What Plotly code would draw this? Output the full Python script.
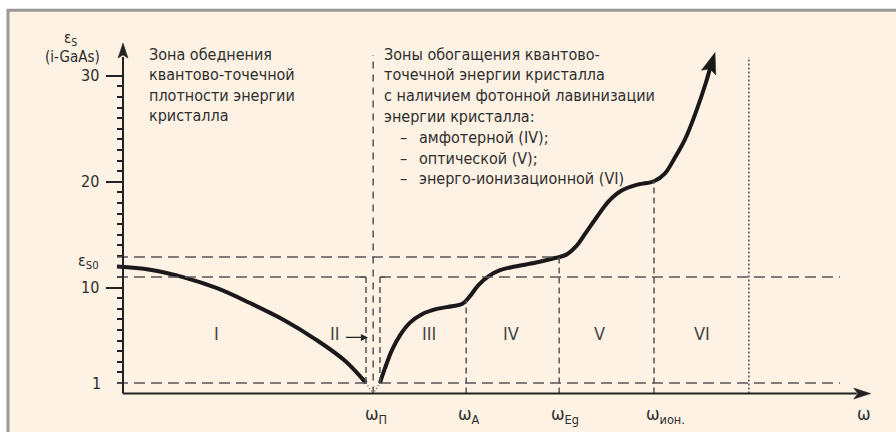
import plotly.graph_objects as go

W, H = 896, 432
# pixel geometry of the drawing's axes (used only for placement helpers)
X0_PX, PX_PER_X = 123.0, 93.0
Y0_PX, PX_PER_Y = 393.6, 10.59

def px_x(p):
    return (p - X0_PX) / PX_PER_X

def px_y(p):
    return (Y0_PX - p) / PX_PER_Y

# ---------------- data ----------------
omega_labels = ["ω<sub>П</sub>", "ω<sub>A</sub>", "ω<sub>Eg</sub>", "ω<sub>ион.</sub>"]
omega_pos = [2.69, 3.69, 4.69, 5.71]
eps_at_omega = [None, 8.8, 12.93, 20.05]
omega_dotted = 6.73
zone2_left, zone2_right = 2.613, 2.763
h_line_end = 7.71
axis_x_end = 8.04
axis_y_end = 33.1

y_major = [10, 20, 30]
y_minor = [v for v in range(1, 30) if v not in (10, 20)]
eps_s0_upper = 12.9
eps_s0_lower = 11.0
eps_one = 1.0

curve1_x = [-0.065, 0.290, 0.645, 1.011, 1.366, 1.720, 2.075, 2.387, 2.613]
curve1_y = [12.0, 11.7, 11.0, 9.95, 8.55, 7.0, 5.1, 3.1, 1.0]

curve2_x = [2.763, 2.817, 2.892, 2.978, 3.086, 3.215, 3.376, 3.538, 3.645, 3.731, 3.817,
            3.925, 4.054, 4.215, 4.430, 4.645, 4.763, 4.871, 4.978, 5.097, 5.226, 5.366,
            5.538, 5.710, 5.828, 5.935, 6.043, 6.161, 6.269, 6.366]
curve2_y = [1.0, 2.4, 4.1, 5.5, 6.7, 7.5, 8.0, 8.25, 8.45, 9.2, 10.2,
            11.05, 11.65, 12.0, 12.35, 12.8, 13.1, 13.9, 15.2, 16.7, 18.2, 19.2,
            19.75, 20.05, 20.8, 22.3, 24.0, 26.6, 29.4, 32.2]

zone_names = ["I", "II", "III", "IV", "V", "VI"]
zone_x = [1.01, 2.28, 3.29, 4.17, 5.12, 6.23]
zone_y = 5.65

left_text = ["Зона обеднения", "квантово-точечной", "плотности энергии", "кристалла"]
right_text = ["Зоны обогащения квантово-", "точечной энергии кристалла",
              "с наличием фотонной лавинизации", "энергии кристалла:"]
right_items = ["амфотерной (IV);", "оптической (V);", "энерго-ионизационной (VI)"]

FONT = "Liberation Sans Narrow, Arial Narrow, DejaVu Sans Condensed, sans-serif"
INK = "#222222"
TXT = "#2e2e2e"
DASH = "#555555"

fig = go.Figure()
shapes = []
ann = []

# frame
shapes.append(dict(type="rect", xref="paper", yref="paper", x0=8 / W, x1=1.02,
                   y0=-0.02, y1=1 - 10.3 / H, line=dict(color="#9a9a9a", width=3),
                   fillcolor="#fef2e4", layer="below"))

def hline(y, x0, x1, dash="11px,6px", color=DASH, width=1.5):
    shapes.append(dict(type="line", x0=x0, x1=x1, y0=y, y1=y,
                       line=dict(color=color, width=width, dash=dash)))

def vline(x, y0, y1, dash="6px,4px", color=DASH, width=1.5):
    shapes.append(dict(type="line", x0=x, x1=x, y0=y0, y1=y1,
                       line=dict(color=color, width=width, dash=dash)))

start_x = px_x(117)
hline(eps_s0_upper, start_x, omega_pos[2])
hline(eps_s0_lower, start_x, zone2_left)
hline(eps_s0_lower, zone2_right, h_line_end)
hline(eps_one, start_x, zone2_left)
hline(eps_one, zone2_right, h_line_end)

vline(omega_pos[0], 0, px_y(55), dash="7px,6px")
vline(zone2_left, eps_one, eps_s0_lower)
vline(zone2_right, eps_one, eps_s0_lower)
shapes.append(dict(type="line", x0=zone2_left - 0.06, x1=zone2_left, y0=eps_s0_lower, y1=eps_s0_lower,
                   line=dict(color=DASH, width=1.5)))
shapes.append(dict(type="line", x0=zone2_right, x1=zone2_right + 0.06, y0=eps_s0_lower, y1=eps_s0_lower,
                   line=dict(color=DASH, width=1.5)))
for i in (1, 2, 3):
    vline(omega_pos[i], 0, eps_at_omega[i])
vline(omega_dotted, 0, px_y(57), dash="2px,2px")
# dotted V at the bottom of zone II
for xs in (zone2_left, zone2_right):
    shapes.append(dict(type="line", x0=xs, x1=omega_pos[0], y0=eps_one, y1=0,
                       line=dict(color=DASH, width=1.2, dash="1px,2px")))

# axes
shapes.append(dict(type="line", x0=0, x1=0, y0=0, y1=axis_y_end - 14 / PX_PER_Y,
                   line=dict(color=INK, width=2)))
shapes.append(dict(type="line", x0=0, x1=axis_x_end - 14 / PX_PER_X, y0=0, y1=0,
                   line=dict(color=INK, width=2)))

def arrow_head(tip_x, tip_y, ux, uy, length, half, notch, color=INK):
    # ux, uy: unit direction in pixel space (y downward)
    tx = (tip_x * PX_PER_X)
    ty = (-tip_y * PX_PER_Y)
    px_, py_ = -uy, ux
    pts = [(tx, ty),
           (tx - length * ux + half * px_, ty - length * uy + half * py_),
           (tx - (length - notch) * ux, ty - (length - notch) * uy),
           (tx - length * ux - half * px_, ty - length * uy - half * py_)]
    d = "M " + " L ".join(f"{x / PX_PER_X:.5f},{-y / PX_PER_Y:.5f}" for x, y in pts) + " Z"
    shapes.append(dict(type="path", path=d, fillcolor=color, line=dict(color=color, width=0.5)))

arrow_head(0, axis_y_end, 0, -1, 15, 5, 3)
arrow_head(axis_x_end, 0, 1, 0, 17, 5.5, 4)

# curves
fig.add_trace(go.Scatter(x=curve1_x, y=curve1_y, mode="lines",
                         line=dict(color="#1a1818", width=4, shape="spline", smoothing=1.0),
                         hoverinfo="skip", showlegend=False))

# end of curve 2 with arrowhead
tx, ty = curve2_x[-1], curve2_y[-1]
ddx = (tx - curve2_x[-3]) * PX_PER_X
ddy = -(ty - curve2_y[-3]) * PX_PER_Y
n = (ddx ** 2 + ddy ** 2) ** 0.5
ux, uy = ddx / n, ddy / n
back = 15
c2x = curve2_x[:-1] + [tx - back * ux / PX_PER_X]
c2y = curve2_y[:-1] + [ty + back * uy / PX_PER_Y]
fig.add_trace(go.Scatter(x=c2x, y=c2y, mode="lines",
                         line=dict(color="#1a1818", width=4, shape="spline", smoothing=1.0),
                         hoverinfo="skip", showlegend=False))
arrow_head(tx, ty, ux, uy, 21, 7.5, 4, color="#1a1818")

# zone II arrow
ann.append(dict(x=px_x(368), y=zone_y - 0.35, ax=-25, ay=0, xref="x", yref="y", text=" ",
                showarrow=True, arrowhead=2, arrowsize=1.1, arrowwidth=1.3, arrowcolor=INK,
                font=dict(size=10)))

def text(x, y, s, size=16, anchor="left", color=TXT):
    ann.append(dict(x=x, y=y, xref="x", yref="y", text=s, showarrow=False,
                    xanchor=anchor, yanchor="middle",
                    font=dict(family=FONT, size=size, color=color)))

for name, zx in zip(zone_names, zone_x):
    text(zx, zone_y, name, size=18, anchor="center", color="#444444")

for i, s in enumerate(left_text):
    text(px_x(147), px_y(54 + 20.6 * i), s, size=16)
for i, s in enumerate(right_text):
    text(px_x(382), px_y(54 + 20.8 * i), s, size=16)
for j, s in enumerate(right_items):
    yy = px_y(54 + 20.8 * (4 + j))
    text(px_x(398), yy, "–", size=16)
    text(px_x(417), yy, s, size=16)

# axis labels
text(px_x(70), px_y(38), "ε<sub>S</sub>", size=15, anchor="center")
text(px_x(102), px_y(57), "(i-GaAs)", size=15, anchor="right")
for v in y_major:
    text(px_x(101), v, str(v), size=16, anchor="right")
text(px_x(103), eps_one, "1", size=16, anchor="right")
text(px_x(101), px_y(261), "ε<sub>S0</sub>", size=16, anchor="right")

for lab, xp in zip(omega_labels, omega_pos):
    ann.append(dict(x=xp - 0.11, y=px_y(415), xref="x", yref="y", text=lab, showarrow=False,
                    xanchor="left", yanchor="middle", font=dict(family=FONT, size=18, color=TXT)))
text(px_x(864), px_y(413), "ω", size=18, anchor="center")

fig.update_layout(
    width=W, height=H, margin=dict(l=0, r=0, t=0, b=0),
    paper_bgcolor="white", plot_bgcolor="rgba(0,0,0,0)",
    xaxis=dict(range=[px_x(0), px_x(W)], visible=False, fixedrange=True),
    yaxis=dict(range=[px_y(H), px_y(0)], visible=True, fixedrange=True,
               anchor="free", position=X0_PX / W, side="left",
               showline=False, showgrid=False, zeroline=False, showticklabels=False,
               tickmode="array", tickvals=y_major, ticks="outside", ticklen=17,
               tickwidth=1.6, tickcolor=INK,
               minor=dict(tickmode="array", tickvals=y_minor, ticks="outside", ticklen=6.5,
                          tickwidth=1.5, tickcolor=INK, showgrid=False)),
    shapes=shapes, annotations=ann, showlegend=False,
)
fig.write_html("out.html", config={"displayModeBar": False},
               post_script="document.body.style.margin='0';document.body.style.overflow='hidden';")
